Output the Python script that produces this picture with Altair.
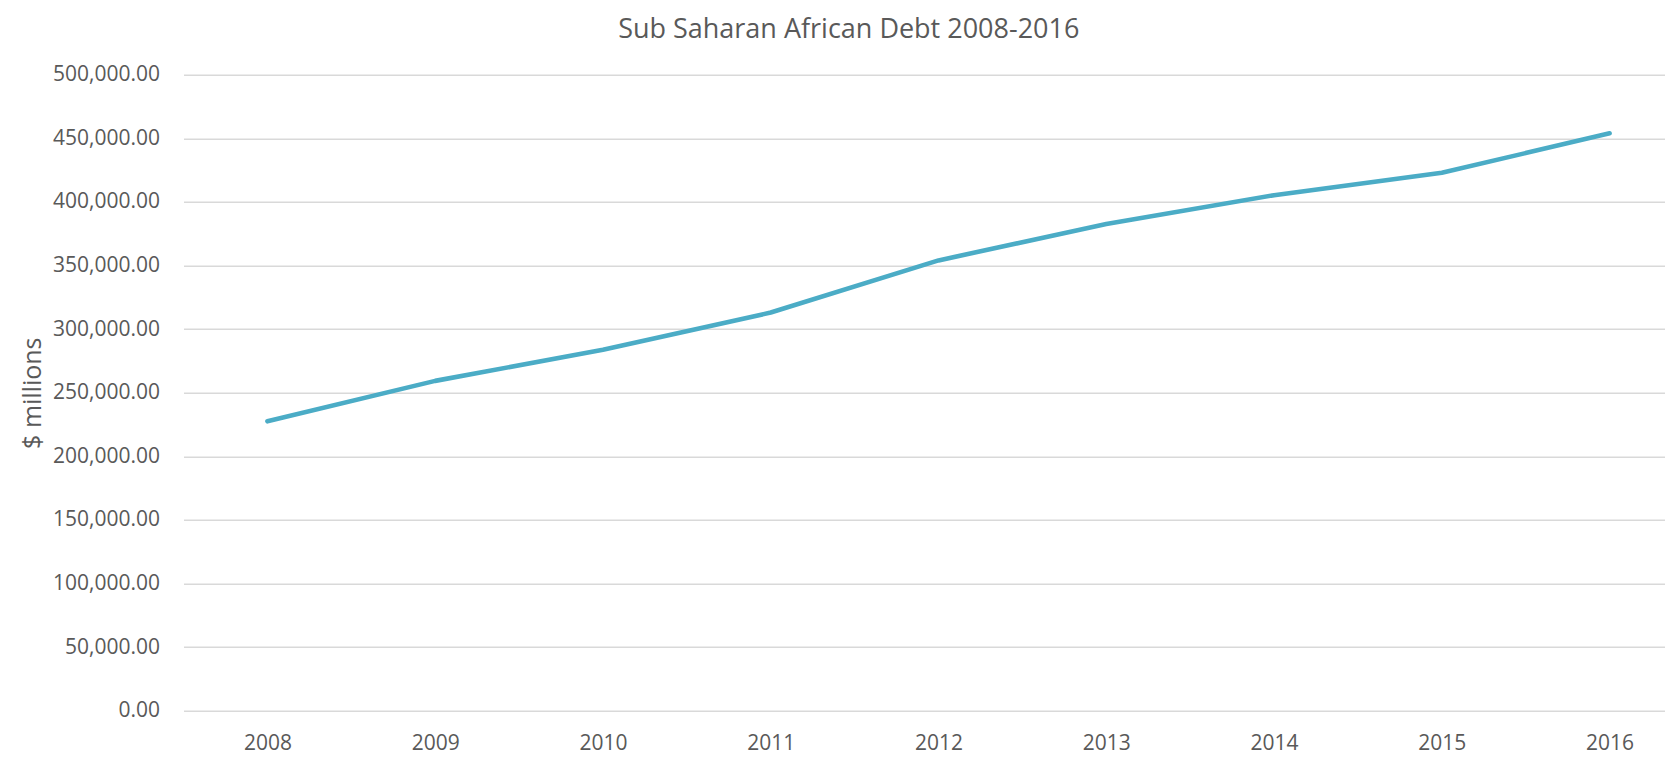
import altair as alt
import pandas as pd

years = [2008, 2009, 2010, 2011, 2012, 2013, 2014, 2015, 2016]
debt = [227500, 259300, 283700, 313000, 354000, 382700, 405300, 422900, 453900]
y_ticks = [0, 50000, 100000, 150000, 200000, 250000, 300000, 350000, 400000, 450000, 500000]

df = pd.DataFrame({"year": years, "debt": debt})

FONT = "Open Sans"
GRAY = "#595959"

chart = (
    alt.Chart(df)
    .mark_line(color="#4BACC6", strokeWidth=4.6, strokeCap="round", strokeJoin="round")
    .encode(
        x=alt.X(
            "year:Q",
            scale=alt.Scale(domain=[2007.5, 2016.33], nice=False, zero=False),
            axis=alt.Axis(
                values=years, format="d", grid=False, domain=False, ticks=False,
                labelPadding=22, labelFontSize=21, labelColor=GRAY, labelFont=FONT,
                title=None,
            ),
        ),
        y=alt.Y(
            "debt:Q",
            scale=alt.Scale(domain=[0, 500000], nice=False),
            axis=alt.Axis(
                values=y_ticks, format=",.2f", domain=False, ticks=False,
                gridColor="#D9D9D9", gridWidth=1.4,
                labelPadding=24, labelFontSize=21, labelColor=GRAY, labelFont=FONT,
                title="$ millions", titleFontWeight="normal", titleFontSize=25,
                titleColor=GRAY, titleFont=FONT, titlePadding=7,
            ),
        ),
    )
    .properties(
        width=1481.5,
        height=636,
        title=alt.TitleParams(
            "Sub Saharan African Debt 2008-2016",
            font=FONT, fontSize=27, fontWeight="normal", color=GRAY,
            anchor="middle", frame="bounds", offset=20, dx=6,
        ),
        autosize="none",
        padding={"left": 175.5, "top": 66.7, "right": 0, "bottom": 47},
    )
    .configure_view(stroke=None)
)

chart.save("out.html", embed_options={"renderer": "svg", "actions": False})
